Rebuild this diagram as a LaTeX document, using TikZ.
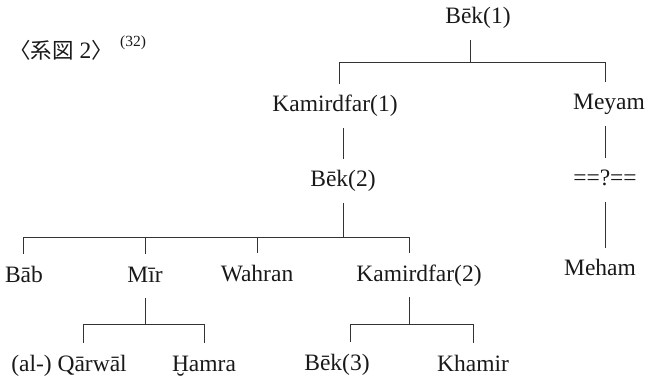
\documentclass[tikz,border=0pt]{standalone}
\usepackage{fontspec}
\setmainfont{Liberation Serif}
\newfontfamily\cjk{Noto Sans CJK JP}
\begin{document}
\begin{tikzpicture}[x=1pt, y=-1pt, personStyle/.style={font=\fontsize{23.5}{28}\selectfont, text=black!90, inner sep=0pt, outer ysep=11pt, text height=17pt, text depth=5pt}, lineStyle/.style={draw=black!80, line width=0.9pt}]
                    \useasboundingbox (0, 0) rectangle (646, 377);

                    \node[font=\fontsize{23.5}{28}\selectfont, text=black!90, inner sep=0pt](title) at (61, 50) {{\cjk\fontsize{21.5}{26}\selectfont 〈系図} 2{\cjk\fontsize{21.5}{26}\selectfont 〉}};
                    \node[font=\fontsize{15.5}{18}\selectfont, text=black!90, inner sep=0pt](note) at (133, 43) {(32)};

                    \node[personStyle](bek_1)   at (478, 18) {Bēk(1)};
                    \node[personStyle](kam_1)   at (335, 106) {Kamirdfar(1)};
                    \node[personStyle](meyam)   at (609, 104) {Meyam};
                    \node[personStyle](bek_2)   at (343, 181) {Bēk(2)};
                    \node[personStyle](unknown) at (605, 180) {==?==};
                    \node[personStyle](bab)     at ( 24, 276) {Bāb};
                    \node[personStyle](mir)     at (145, 276) {Mīr};
                    \node[personStyle](wahran)  at (257, 275) {Wahran};
                    \node[personStyle](kam_2)   at (419, 275) {Kamirdfar(2)};
                    \node[personStyle](meham)   at (600, 270) {Meham};
                    \node[personStyle](qarwal)  at ( 69, 365) {(al-) Qārwāl};
                    \node[personStyle](hamra)   at (204, 365) {Ḫamra};
                    \node[personStyle](bek_3)   at (337, 364) {Bēk(3)};
                    \node[personStyle](khamir)  at (473, 365) {Khamir};

                    \coordinate (bek_1_J) at (470, 62);
                    \coordinate (bek_1_L) at (339, 62);
                    \coordinate (bek_1_R) at (605, 62);
                    \coordinate (bek_2_L) at ( 23, 237);
                    \coordinate (bek_2_R) at (409, 237);
                    \coordinate (mir_L)   at ( 83, 324);
                    \coordinate (mir_R)   at (204, 324);
                    \coordinate (kam_2_L) at (350, 324);
                    \coordinate (kam_2_R) at (473, 324);

                    \draw[lineStyle] (bek_1.south -| bek_1_J) -- (bek_1_J);
                    \draw[lineStyle] (kam_1.north -| bek_1_L) -- (bek_1_L) -- (bek_1_R) -- (meyam.north -| bek_1_R);
                    \draw[lineStyle] (kam_1.south -| bek_2.north) -- (bek_2.north);
                    \draw[lineStyle] (meyam.south -| unknown.north) -- (unknown.north);
                    \draw[lineStyle] (unknown.south) -- (meham.north -| unknown.south);

                    \draw[lineStyle] (bek_2.south) -- (bek_2.south |- bek_2_L);
                    \draw[lineStyle] (bab.north -| bek_2_L) -- (bek_2_L) -- (bek_2_R) -- (kam_2.north -| bek_2_R);
                    \draw[lineStyle] (mir.north) -- (mir.north |- bek_2_L);
                    \draw[lineStyle] (wahran.north) -- (wahran.north |- bek_2_L);

                    \draw[lineStyle] (mir.south) -- (mir.south |- mir_L);
                    \draw[lineStyle] (qarwal.north -| mir_L) -- (mir_L) -- (mir_R) -- (hamra.north -| mir_R);
                    \draw[lineStyle] (kam_2.south -| bek_2_R) -- (bek_2_R |- kam_2_L);
                    \draw[lineStyle] (bek_3.north -| kam_2_L) -- (kam_2_L) -- (kam_2_R) -- (khamir.north -| kam_2_R);
                \end{tikzpicture}
\end{document}
